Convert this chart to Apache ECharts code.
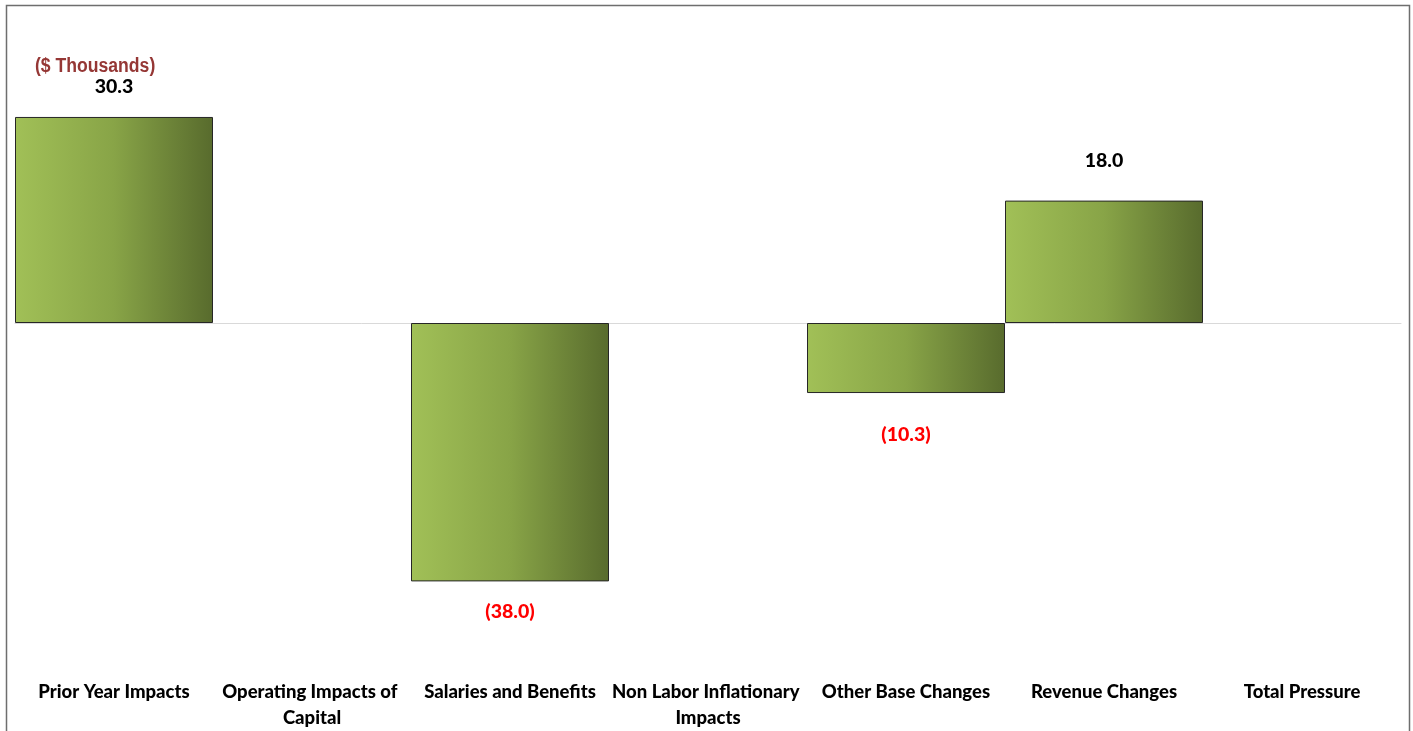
<!DOCTYPE html>
<html>
<head>
<meta charset="utf-8">
<script src="https://cdn.jsdelivr.net/npm/echarts@6/dist/echarts.min.js"></script>
<style>
  html, body { margin: 0; padding: 0; background: #fff; }
  #chart { width: 1413px; height: 731px; }
</style>
</head>
<body>
<div id="chart"></div>
<script>
// categories and values ($ Thousands)
const categories = [
  'Prior Year Impacts',
  'Operating Impacts of Capital',
  'Salaries and Benefits',
  'Non Labor Inflationary Impacts',
  'Other Base Changes',
  'Revenue Changes',
  'Total Pressure',
]
const values = [30.3, 0, -38.0, 0, -10.3, 18.0, 0]
// label gap from the bar end, as placed in the original
const labelGaps = [20, 0, 20, 0, 32, 30, 0]

const unitText = '($ Thousands)'

const chart = echarts.init(document.getElementById('chart'))

const fmt = (v) => {
  if (v === 0) return ''
  return v < 0 ? '(' + Math.abs(v).toFixed(1) + ')' : v.toFixed(1)
}

const barColor = {
  type: 'linear', x: 0, y: 0, x2: 1, y2: 0,
  colorStops: [
    { offset: 0, color: '#a1c057' },
    { offset: 0.5, color: '#88a447' },
    { offset: 1, color: '#586b2d' },
  ],
}

const option = {
  animation: false,
  graphic: [
    {
      type: 'rect',
      left: 4, top: 3,
      shape: { width: 1403, height: 740 },
      style: { fill: 'none', stroke: '#6e6e6e', lineWidth: 1.5 },
      silent: true,
    },
    {
      type: 'text',
      left: 35, top: 56,
      scaleX: 0.88,
      style: {
        text: unitText,
        fill: '#953735',
        font: 'bold 20px "Liberation Sans", Arial, sans-serif',
      },
    },
  ],
  grid: {
    left: 15,
    right: 12,
    top: 51,
    bottom: 67.5,
  },
  xAxis: [
    {
      type: 'category',
      data: categories,
      axisLine: { show: false, onZero: false },
      axisTick: { show: false },
      axisLabel: {
        interval: 0,
        margin: 16,
        width: 196,
        overflow: 'break',
        lineHeight: 26,
        color: '#000',
        fontFamily: 'Lato, sans-serif',
        fontWeight: 900,
        fontSize: 18.5,
      },
    },
    {
      // zero line only
      type: 'category',
      data: categories,
      position: 'top',
      axisLine: { show: true, onZero: true, lineStyle: { color: '#d9d9d9', width: 1 } },
      axisTick: { show: false },
      axisLabel: { show: false },
    },
  ],
  yAxis: {
    type: 'value',
    min: -50,
    max: 40,
    interval: 10,
    show: false,
  },
  series: [
    {
      type: 'bar',
      xAxisIndex: 0,
      barWidth: '100%',
      barCategoryGap: 0,
      itemStyle: {
        color: barColor,
        borderColor: '#262626',
        borderWidth: 1,
      },
      data: values.map((v, i) => ({
        value: v,
        itemStyle: v === 0 ? { borderWidth: 0, opacity: 0 } : undefined,
        label: {
          show: v !== 0,
          position: v < 0 ? 'bottom' : 'top',
          distance: labelGaps[i],
          color: v < 0 ? '#ff0000' : '#000',
        },
      })),
      label: {
        fontFamily: 'Lato, sans-serif',
        fontWeight: 900,
        fontSize: 19.5,
        formatter: (p) => fmt(p.value),
      },
    },
  ],
}

chart.setOption(option)
</script>
</body>
</html>
